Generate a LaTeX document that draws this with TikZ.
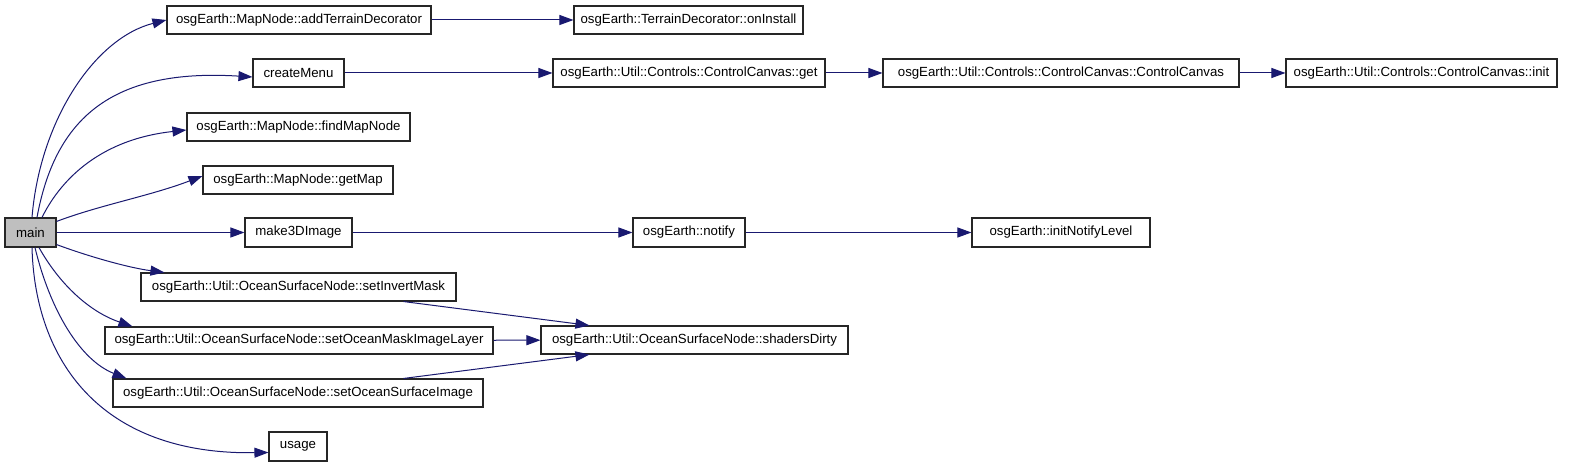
\documentclass[tikz,border=0pt]{standalone}
\usepackage{fontspec}
\setmainfont{Liberation Sans}
\usetikzlibrary{arrows.meta}
\definecolor{edgeblue}{HTML}{191970}
\definecolor{maingray}{HTML}{BFBFBF}
\tikzset{
  fn/.style={draw=black!85, line width=1.1bp, rectangle, inner sep=0pt, font=\fontsize{13.3}{15}\selectfont},
  call/.style={draw=edgeblue, line width=1bp, -{Triangle[length=14bp,width=10bp]}, edgeblue},
}
\newcommand{\fnbox}[6]{% name, x1, y1, x2, y2, text
  \node[fn, minimum width={(#4-#2)*1bp}, minimum height={(#5-#3)*1bp}] (#1) at ({(#2+#4)/2},{(#3+#5)/2}) {#6};}
\begin{document}
\begin{tikzpicture}[x=1bp, y=-1bp]
\useasboundingbox (0,0) rectangle (1579,467);
\fill[white] (0,0) rectangle (1579,467);
\node[fn, fill=maingray, minimum width=51bp, minimum height=29bp] (main) at (30.5,232.5) {main};
\fnbox{atd}{167}{6}{431}{34}{osgEarth::MapNode::addTerrainDecorator}
\fnbox{oni}{574}{6}{803}{34}{osgEarth::TerrainDecorator::onInstall}
\fnbox{cm}{253}{59}{344}{87}{createMenu}
\fnbox{ccget}{553}{59}{825}{87}{osgEarth::Util::Controls::ControlCanvas::get}
\fnbox{cccc}{883}{59}{1239}{87}{osgEarth::Util::Controls::ControlCanvas::ControlCanvas}
\fnbox{ccinit}{1286}{59}{1557}{87}{osgEarth::Util::Controls::ControlCanvas::init}
\fnbox{fmn}{187}{113}{410}{141}{osgEarth::MapNode::findMapNode}
\fnbox{gm}{203}{166}{393}{194}{osgEarth::MapNode::getMap}
\fnbox{m3d}{245}{218}{352}{247}{make3DImage}
\fnbox{ntf}{633}{218}{745}{247}{osgEarth::notify}
\fnbox{inl}{972}{218}{1150}{247}{osgEarth::initNotifyLevel}
\fnbox{sim}{141}{273}{456}{301}{osgEarth::Util::OceanSurfaceNode::setInvertMask}
\fnbox{som}{105}{327}{493}{354}{osgEarth::Util::OceanSurfaceNode::setOceanMaskImageLayer}
\fnbox{sos}{113}{379}{483}{407}{osgEarth::Util::OceanSurfaceNode::setOceanSurfaceImage}
\fnbox{sd}{541}{326}{848}{354}{osgEarth::Util::OceanSurfaceNode::shadersDirty}
\fnbox{usg}{269}{432}{327}{461}{usage}
% curved calls from main
\draw[call] ([xshift=1.5bp]main.north) .. controls (40,120) and (95,38) .. (atd.west);
\draw[call] ([xshift=6.5bp]main.north) .. controls (55,120) and (110,68) .. ([yshift=-4bp]cm.west);
\draw[call] ([xshift=11.5bp]main.north) .. controls (58,185) and (95,140) .. ([yshift=-3bp]fmn.west);
\draw[call] ([yshift=-4bp]main.north east) .. controls (100,205) and (150,196) .. ([yshift=4bp]gm.west);
\draw[call] (main) -- (m3d);
\draw[call] ([yshift=3bp]main.south east) .. controls (90,257) and (130,268) .. ([xshift=24bp]sim.north west);
\draw[call] ([xshift=8.5bp]main.south) .. controls (60,285) and (90,312) .. ([xshift=28bp]som.north west);
\draw[call] ([xshift=4.5bp]main.south) .. controls (50,310) and (80,360) .. ([xshift=14bp]sos.north west);
\draw[call] ([xshift=1.5bp]main.south) .. controls (35,360) and (100,455) .. ([yshift=-6bp]usg.west);
% straight chains
\draw[call] (atd) -- (oni);
\draw[call] (cm) -- (ccget);
\draw[call] (ccget) -- (cccc);
\draw[call] (cccc) -- (ccinit);
\draw[call] (m3d) -- (ntf);
\draw[call] (ntf) -- (inl);
\draw[call] ([xshift=-53bp]sim.south east) -- ([xshift=49bp]sd.north west);
\draw[call] (som) -- (sd);
\draw[call] ([xshift=-80bp]sos.north east) -- ([xshift=49bp]sd.south west);
\end{tikzpicture}
\end{document}
